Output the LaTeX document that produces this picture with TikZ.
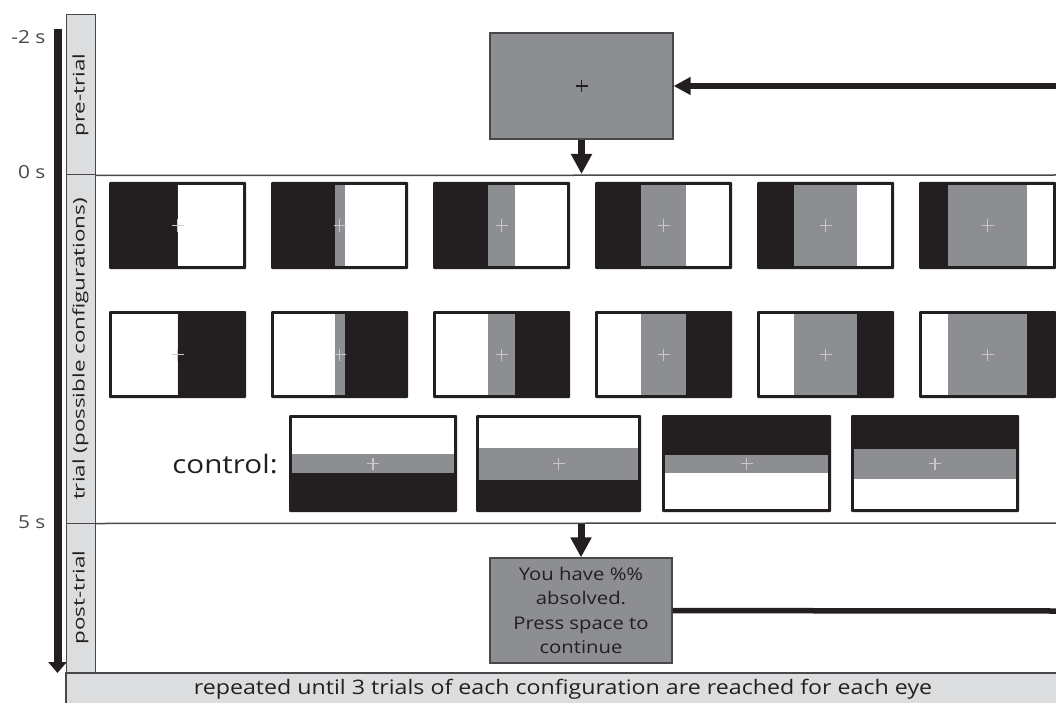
\documentclass[tikz,border=0pt]{standalone}
\usepackage{fontspec}
\setmainfont{Open Sans}[FakeStretch=1.16]
\newfontfamily\longfont{Open Sans}[FakeStretch=1.4]
\usetikzlibrary{arrows.meta,positioning}
\definecolor{StimInk}{RGB}{35,31,32}
\definecolor{StimGray}{RGB}{141,142,146}
\definecolor{PhaseGray}{RGB}{220,221,223}
\definecolor{FrameGray}{RGB}{72,72,74}
\definecolor{CrossGray}{RGB}{200,200,202}
\newcommand{\fs}[2]{\fontsize{#1}{#2}\selectfont}

\begin{document}
\begin{tikzpicture}[x=1pt,y=-1pt,>=Latex,
    phase/.style={draw=FrameGray,fill=PhaseGray,line width=1pt,minimum width=29pt,inner sep=0pt},
    phaselabel/.style={rotate=90,text=StimInk,font=\longfont\fs{16}{19}},
    screen/.style={draw=FrameGray,fill=StimGray,line width=1.2pt,inner sep=0pt,
      minimum width=182pt,minimum height=105pt},
    flow/.style={line width=7pt,StimInk,-{Triangle[width=20pt,length=20pt]}},
    loopline/.style={line width=5.5pt,StimInk},
    sep/.style={FrameGray,line width=1.5pt},
    cross/.style={CrossGray,line width=1.3pt},
    tick/.style={anchor=east,text=FrameGray,font=\fs{18}{22}}]
  \useasboundingbox (0,0) rectangle (1056,703);

  \draw[line width=8pt,StimInk,-{Triangle[width=18pt,length=11pt]}] (57.5,29) -- (57.5,673);
  \node[tick] (tm2) at (49,37) {-2 s};
  \node[tick] (t0) at (49,172) {0 s};
  \node[tick] (t5) at (49,522) {5 s};

  \node[phase,minimum height=160pt] (prebar) at (80.5,95) {};
  \node[phase,minimum height=348pt] (trialbar) at (80.5,349) {};
  \node[phase,minimum height=149pt] (postbar) at (80.5,597.5) {};
  \node[phaselabel] (prelab) at (prebar) {pre-trial};
  \node[phaselabel] (triallab) at (trialbar) {trial (possible configurations)};
  \node[phaselabel] (postlab) at (postbar) {post-trial};

  \draw[sep] (prebar.south east) -- (1056,175);
  \draw[sep] (trialbar.south east) -- (1056,523);

  \node[screen,minimum width=183pt,minimum height=106pt] (prescreen) at (581.5,86) {};
  \draw[StimInk,line width=1.3pt] ([xshift=-6pt]prescreen.center) -- ++(12,0)
    ([yshift=6pt]prescreen.center) -- ++(0,12);
  \coordinate (loopin) at (1056,86);
  \coordinate (trialtop) at (581.5,174);
  \draw[loopline,-{Triangle[width=17pt,length=17pt]}] (loopin) -- (prescreen);
  \draw[flow] (prescreen) -- (trialtop);

  \foreach \g [count=\i from 0] in {0,10,27,45,63,79}{
    \pgfmathsetmacro{\xa}{109+162*\i}
    \pgfmathsetmacro{\cx}{\xa+68.5}
    \fill[StimInk,rounded corners=1pt] (\xa,182) rectangle ++(137,87);
    \fill[white] (\cx,185) rectangle (\xa+134,266);
    \fill[StimGray] (\cx-\g/2,185) rectangle (\cx+\g/2,266);
    \draw[cross] (\cx-6,225.5) -- ++(12,0) (\cx,219.5) -- ++(0,12);
    \fill[StimInk,rounded corners=1pt] (\xa,311) rectangle ++(137,87);
    \fill[white] (\xa+3,314) rectangle (\cx,395);
    \fill[StimGray] (\cx-\g/2,314) rectangle (\cx+\g/2,395);
    \draw[cross] (\cx-6,354.5) -- ++(12,0) (\cx,348.5) -- ++(0,12);
  }

  \node[text=StimInk,font=\fs{25.5}{30}] (ctrl) at (225,464) {control:};
  \foreach \xa/\w/\top/\bot/\g in {289/168/white/StimInk/19,476/165/white/StimInk/32,
      662/169/StimInk/white/18,851/168/StimInk/white/30}{
    \fill[StimInk,rounded corners=1pt] (\xa,415) rectangle ++(\w,97);
    \fill[\top] (\xa+3,418) rectangle (\xa+\w-3,463.5);
    \fill[\bot] (\xa+3,463.5) rectangle (\xa+\w-3,509);
    \fill[StimGray] (\xa+3,463.5-\g/2) rectangle (\xa+\w-3,463.5+\g/2);
    \draw[cross] (\xa+\w/2-6,463.5) -- ++(12,0) (\xa+\w/2,457.5) -- ++(0,12);
  }

  \coordinate (posttop) at (581,524);
  \node[screen,align=center,text=StimInk,font=\fs{17.5}{24.5}] (postscreen) at (581,610.5)
    {You have \%\%\\absolved.\\Press space to\\continue};
  \coordinate (loopout) at (1056,611);
  \draw[flow] (posttop) -- (postscreen);
  \draw[loopline] (postscreen) -- (loopout);

  \draw[draw=FrameGray,fill=PhaseGray,line width=1.2pt] (66,710) -- (66,673) -- (1060,673) -- (1060,710);
  \node[text=StimInk,font=\fs{20}{24}] (repeat) at (563,689) {repeated until 3 trials of each configuration are reached for each eye};
\end{tikzpicture}
\end{document}
